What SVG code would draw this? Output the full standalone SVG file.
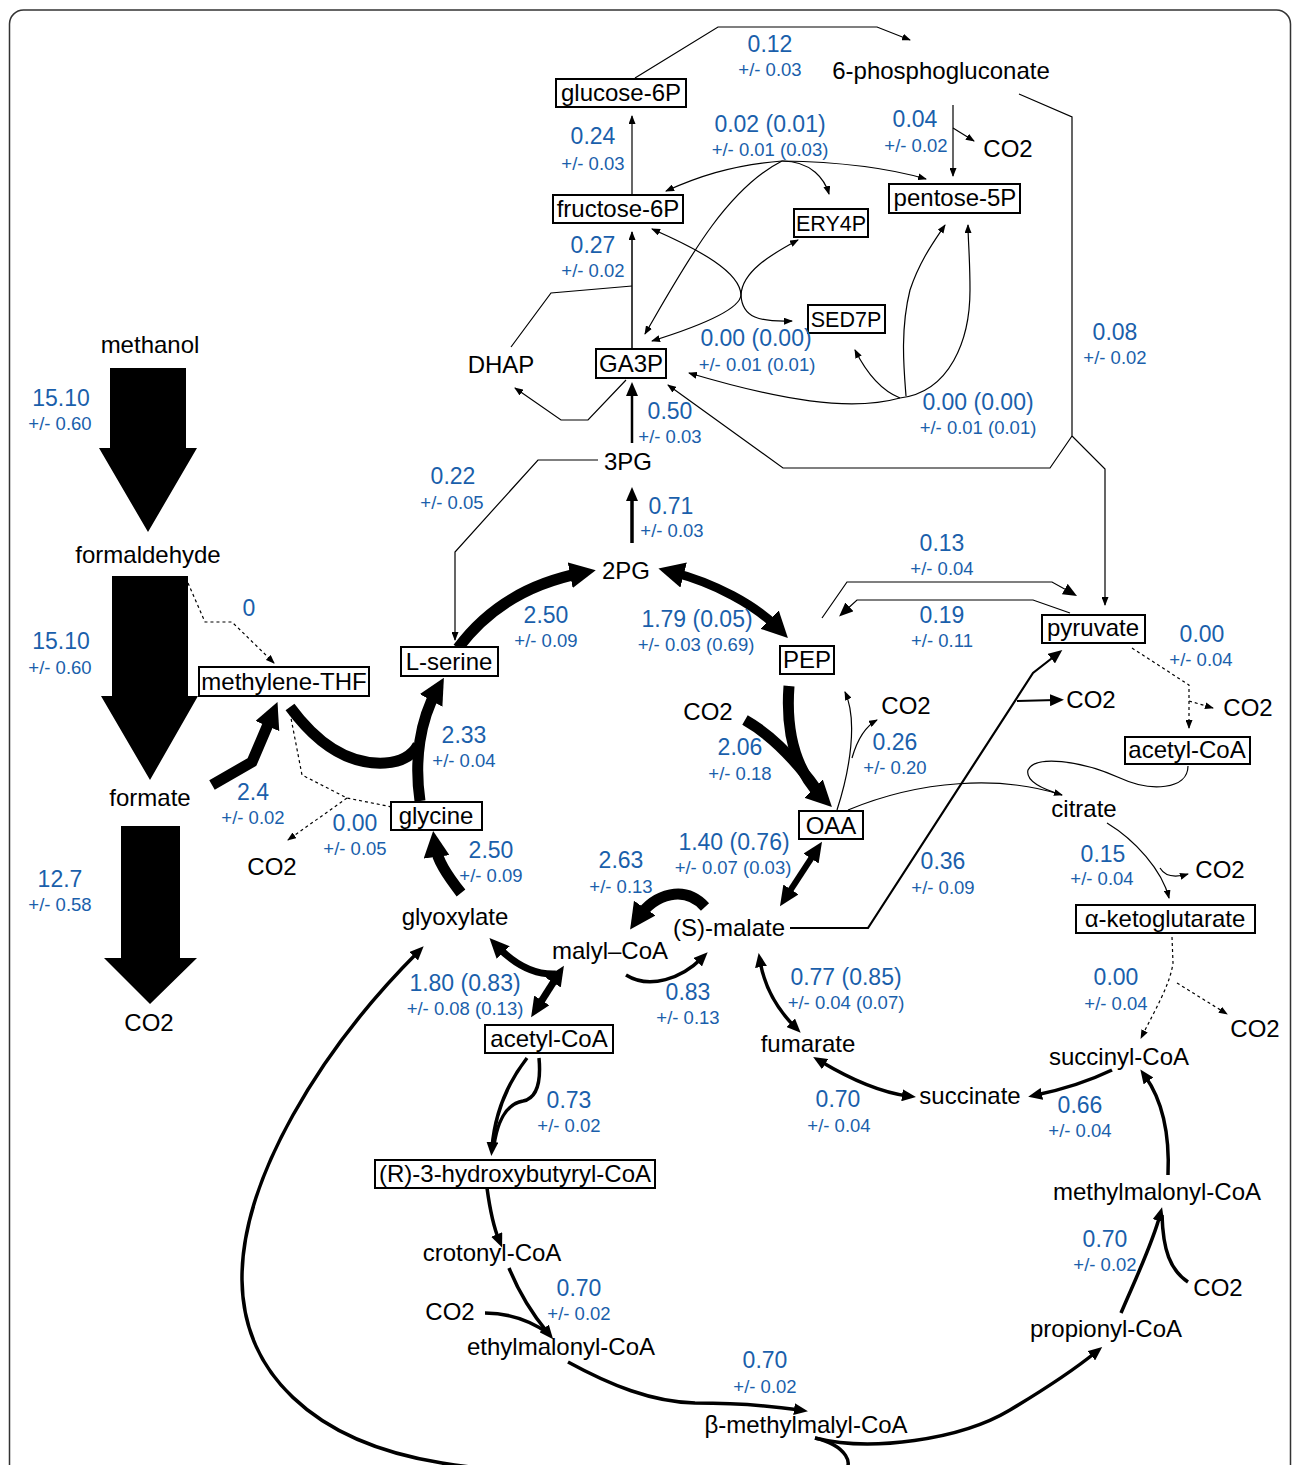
<svg xmlns="http://www.w3.org/2000/svg" width="1293" height="1465" viewBox="0 0 1293 1465">
<style>
text{font-family:"Liberation Sans",Arial,sans-serif;text-anchor:middle}
.n{font-size:24px;fill:#000}
.s{font-size:21.5px}
.v{font-size:23px;fill:#1a5fab}
.e{font-size:18.5px;fill:#1a5fab}
.box{fill:#fff;stroke:#000;stroke-width:2}
.c{fill:none;stroke:#000}
.t{stroke-width:1.2}
.d{stroke-width:1.2;stroke-dasharray:3,3}
.m3{stroke-width:3.5}
.m2{stroke-width:2.2}
.k{stroke-width:11}
.k9{stroke-width:9}
.k7{stroke-width:7}
.k6{stroke-width:6}
.big{fill:#000}
</style>
<defs>
<marker id="as" viewBox="0 0 9 7" markerWidth="9" markerHeight="7" refX="8" refY="3.5" orient="auto-start-reverse" markerUnits="userSpaceOnUse"><path d="M0,0 L9,3.5 L0,7 Z" fill="#000"/></marker>
<marker id="am" viewBox="0 0 14 12" markerWidth="14" markerHeight="12" refX="6" refY="6" orient="auto-start-reverse" markerUnits="userSpaceOnUse"><path d="M0,0 L14,6 L0,12 Z" fill="#000"/></marker>
<marker id="aml" viewBox="0 0 20 18" markerWidth="20" markerHeight="18" refX="9" refY="9" orient="auto-start-reverse" markerUnits="userSpaceOnUse"><path d="M0,0 L20,9 L0,18 Z" fill="#000"/></marker>
<marker id="al" viewBox="0 0 26 26" markerWidth="26" markerHeight="26" refX="12" refY="13" orient="auto-start-reverse" markerUnits="userSpaceOnUse"><path d="M0,0 L26,13 L0,26 Z" fill="#000"/></marker>
</defs>
<rect x="9.5" y="10" width="1281" height="1500" rx="14" fill="none" stroke="#333" stroke-width="1.5"/>

<g id="connectors">
<polygon class="big" points="110,368 186,368 186,448 197,448 148,532 99,448 110,448"/>
<polygon class="big" points="112,576 188,576 188,696 198,696 150,780 101,696 112,696"/>
<polygon class="big" points="121,826 180,826 180,958 197,958 150,1004 104,958 121,958"/>
<path class="c k" d="M212,785 L252,762 L272,715" marker-end="url(#al)"/>
<path class="c k" d="M290,707 C318,745 350,765 385,763 C402,762 412,756 418,745"/>
<path class="c k" d="M420,801 C414,760 420,720 437,690" marker-end="url(#al)"/>
<path class="c k" d="M461,893 C447,875 437,860 435,845" marker-end="url(#al)"/>
<path class="c k" d="M458,648 C490,605 535,582 582,573" marker-end="url(#al)"/>
<path class="c k9" d="M672,572 C715,583 755,605 778,628" marker-start="url(#al)" marker-end="url(#al)"/>
<path class="c k" d="M789,686 C785,740 800,775 822,797" marker-end="url(#al)"/>
<path class="c k" d="M745,720 C775,737 800,765 822,797"/>
<path class="c k6" d="M816,851 L786,897" marker-start="url(#aml)" marker-end="url(#aml)"/>
<path class="c k" d="M705,907 C685,885 655,893 638,918" marker-end="url(#al)"/>
<path class="c m3" d="M626,975 C650,990 682,978 702,958" marker-end="url(#am)"/>
<path class="c k7" d="M497,946 C515,965 535,975 556,974" marker-start="url(#aml)"/>
<path class="c k7" d="M558,975 L537,1008" marker-start="url(#aml)" marker-end="url(#aml)"/>
<path class="c m3" d="M527,1058 C510,1080 495,1110 492,1148" marker-end="url(#am)"/>
<path class="c m3" d="M539,1058 C541,1080 538,1098 523,1101 C505,1104 497,1125 494,1145"/>
<path class="c m3" d="M487,1188 C490,1210 494,1228 499,1240" marker-end="url(#am)"/>
<path class="c m3" d="M509,1268 C520,1295 533,1315 548,1333" marker-end="url(#am)"/>
<path class="c m3" d="M485,1313 C512,1313 532,1322 548,1333"/>
<path class="c m3" d="M568,1362 C610,1385 652,1402 695,1403 C730,1403 765,1405 800,1410" marker-end="url(#am)"/>
<path class="c m3" d="M815,1438 C870,1452 960,1440 1010,1410 C1050,1386 1080,1365 1096,1352" marker-end="url(#am)"/>
<path class="c m3" d="M815,1438 C845,1445 858,1465 840,1475 C800,1495 550,1480 442,1463 C310,1442 243,1370 242,1280 C241,1180 320,1050 418,952" marker-end="url(#am)"/>
<path class="c m3" d="M1121,1313 C1135,1280 1152,1245 1160,1215" marker-end="url(#am)"/>
<path class="c m3" d="M1188,1282 C1170,1270 1163,1250 1162,1215"/>
<path class="c m3" d="M1168,1175 C1170,1130 1160,1097 1145,1076" marker-end="url(#am)"/>
<path class="c m3" d="M1112,1070 C1085,1083 1060,1090 1036,1095" marker-end="url(#am)"/>
<path class="c m3" d="M820,1061 C855,1082 885,1093 908,1096" marker-start="url(#am)" marker-end="url(#am)"/>
<path class="c m3" d="M760,961 C765,990 778,1010 795,1027" marker-start="url(#am)" marker-end="url(#am)"/>
<path class="c d" d="M188,583 L205,622 L232,622 L274,663" marker-end="url(#as)"/>
<path class="c d" d="M290,713 L302,775 L347,798 L392,807"/>
<path class="c d" d="M347,798 L288,840" marker-end="url(#as)"/>
<path class="c t" d="M598,460 L538,460 L455,552 L455,640" marker-end="url(#as)"/>
<path class="c m3" d="M632,543 L632,495" marker-end="url(#am)"/>
<path class="c" stroke-width="2.5" d="M632,443 L632,390" marker-end="url(#am)"/>
<path class="c t" d="M626,380 L588,420 L561,420 L515,388" marker-end="url(#as)"/>
<path class="c t" d="M511,347 L551,293 L632,286"/>
<path class="c" stroke-width="1.5" d="M632,348 L632,232" marker-end="url(#as)"/>
<path class="c t" d="M632,194 L632,116" marker-end="url(#as)"/>
<path class="c t" d="M635,78 L718,27 L877,27 L910,40" marker-end="url(#as)"/>
<path class="c t" d="M953,105 L953,176" marker-end="url(#as)"/>
<path class="c t" d="M953,128 L974,141" marker-end="url(#as)"/>
<path class="c t" d="M1019,94 L1072,117 L1072,436 L1105,469 L1105,605" marker-end="url(#as)"/>
<path class="c t" d="M1072,436 L1050,468 L783,468 L668,385" marker-end="url(#as)"/>
<path class="c t" d="M782,161 C730,165 695,178 666,191" marker-end="url(#as)"/>
<path class="c t" d="M782,161 C850,162 895,170 926,179" marker-end="url(#as)"/>
<path class="c t" d="M782,161 C812,161 825,180 829,194" marker-end="url(#as)"/>
<path class="c t" d="M782,161 C725,190 685,265 645,334" marker-end="url(#as)"/>
<path class="c t" d="M652,229 C700,250 740,272 741,295 C742,318 760,322 792,321" marker-start="url(#as)" marker-end="url(#as)"/>
<path class="c t" d="M798,240 C770,255 742,272 741,295 C740,310 700,326 652,341" marker-start="url(#as)" marker-end="url(#as)"/>
<path class="c t" d="M900,398 C880,390 865,370 855,350" marker-end="url(#as)"/>
<path class="c t" d="M906,396 C904,370 900,330 910,290 C920,260 935,240 945,225" marker-end="url(#as)"/>
<path class="c t" d="M900,398 C950,392 970,340 970,290 C970,258 968,240 968,225" marker-end="url(#as)"/>
<path class="c t" d="M900,398 C850,412 780,400 689,373" marker-end="url(#as)"/>
<path class="c t" d="M822,618 L847,582 L1052,582 L1070,592" marker-end="url(#am)"/>
<path class="c t" d="M1070,613 L1033,600 L857,600 L845,611" marker-end="url(#am)"/>
<path class="c m2" d="M790,928 L868,928 L1033,673 L1056,655" marker-end="url(#am)"/>
<path class="c m2" d="M1017,701 L1056,700" marker-end="url(#am)"/>
<path class="c d" d="M1132,648 L1189,685 L1189,728" marker-end="url(#as)"/>
<path class="c d" d="M1189,701 L1213,708" marker-end="url(#as)"/>
<path class="c t" d="M837,810 C850,770 858,720 845,692" marker-end="url(#as)"/>
<path class="c t" d="M852,758 C858,737 866,726 877,720" marker-end="url(#as)"/>
<path class="c t" d="M848,810 C920,780 1000,775 1062,795" marker-end="url(#as)"/>
<path class="c t" d="M1188,766 C1188,790 1150,792 1120,778 C1080,760 1035,755 1028,770 C1025,782 1045,790 1062,795"/>
<path class="c t" d="M1107,823 C1135,840 1162,870 1169,898" marker-end="url(#as)"/>
<path class="c t" d="M1160,868 C1166,878 1178,877 1188,874" marker-end="url(#as)"/>
<path class="c d" d="M1172,937 L1173,963 C1170,985 1155,1010 1141,1038" marker-end="url(#as)"/>
<path class="c d" d="M1177,983 L1227,1014" marker-end="url(#as)"/>
</g>

<g id="node-methanol"><text class="n" x="150" y="353">methanol</text></g>
<g id="node-formaldehyde"><text class="n" x="148" y="563">formaldehyde</text></g>
<g id="node-formate"><text class="n" x="150" y="806">formate</text></g>
<g id="node-co2-a"><text class="n" x="149" y="1031">CO2</text></g>
<g id="node-co2-b"><text class="n" x="272" y="875">CO2</text></g>
<g id="node-dhap"><text class="n" x="501" y="373">DHAP</text></g>
<g id="node-3pg"><text class="n" x="628" y="470">3PG</text></g>
<g id="node-2pg"><text class="n" x="626" y="579">2PG</text></g>
<g id="node-6pg"><text class="n" x="941" y="79">6-phosphogluconate</text></g>
<g id="node-co2-c"><text class="n" x="1008" y="157">CO2</text></g>
<g id="node-co2-d"><text class="n" x="708" y="720">CO2</text></g>
<g id="node-co2-e"><text class="n" x="906" y="714">CO2</text></g>
<g id="node-co2-f"><text class="n" x="1091" y="708">CO2</text></g>
<g id="node-co2-g"><text class="n" x="1248" y="716">CO2</text></g>
<g id="node-citrate"><text class="n" x="1084" y="817">citrate</text></g>
<g id="node-co2-h"><text class="n" x="1220" y="878">CO2</text></g>
<g id="node-co2-i"><text class="n" x="1255" y="1037">CO2</text></g>
<g id="node-glyoxylate"><text class="n" x="455" y="925">glyoxylate</text></g>
<g id="node-malylcoa"><text class="n" x="610" y="959">malyl–CoA</text></g>
<g id="node-malate"><text class="n" x="729" y="936">(S)-malate</text></g>
<g id="node-fumarate"><text class="n" x="808" y="1052">fumarate</text></g>
<g id="node-succinate"><text class="n" x="970" y="1104">succinate</text></g>
<g id="node-succinylcoa"><text class="n" x="1119" y="1065">succinyl-CoA</text></g>
<g id="node-methylmalonylcoa"><text class="n" x="1157" y="1200">methylmalonyl-CoA</text></g>
<g id="node-co2-j"><text class="n" x="1218" y="1296">CO2</text></g>
<g id="node-propionylcoa"><text class="n" x="1106" y="1337">propionyl-CoA</text></g>
<g id="node-bmethylmalylcoa"><text class="n" x="806" y="1433">β-methylmalyl-CoA</text></g>
<g id="node-ethylmalonylcoa"><text class="n" x="561" y="1355">ethylmalonyl-CoA</text></g>
<g id="node-co2-k"><text class="n" x="450" y="1320">CO2</text></g>
<g id="node-crotonylcoa"><text class="n" x="492" y="1261">crotonyl-CoA</text></g>

<g id="node-glucose6p"><rect class="box" x="556" y="79" width="130" height="28"/><text class="n" x="621" y="101">glucose-6P</text></g>
<g id="node-fructose6p"><rect class="box" x="553" y="195" width="130" height="28"/><text class="n" x="618" y="217">fructose-6P</text></g>
<g id="node-ery4p"><rect class="box" x="794" y="209" width="74" height="28"/><text class="n s" x="831" y="231">ERY4P</text></g>
<g id="node-pentose5p"><rect class="box" x="889" y="184" width="131" height="29"/><text class="n" x="955" y="206">pentose-5P</text></g>
<g id="node-sed7p"><rect class="box" x="808" y="305" width="77" height="28"/><text class="n s" x="846" y="327">SED7P</text></g>
<g id="node-ga3p"><rect class="box" x="596" y="349" width="70" height="29"/><text class="n" x="631" y="372">GA3P</text></g>
<g id="node-lserine"><rect class="box" x="401" y="647" width="97" height="29"/><text class="n" x="449" y="670">L-serine</text></g>
<g id="node-pep"><rect class="box" x="780" y="646" width="54" height="28"/><text class="n" x="807" y="668">PEP</text></g>
<g id="node-pyruvate"><rect class="box" x="1042" y="615" width="103" height="28"/><text class="n" x="1093" y="636">pyruvate</text></g>
<g id="node-methylenethf"><rect class="box" x="199" y="667" width="170" height="29"/><text class="n" x="284" y="690">methylene-THF</text></g>
<g id="node-glycine"><rect class="box" x="391" y="802" width="91" height="28"/><text class="n" x="436" y="824">glycine</text></g>
<g id="node-oaa"><rect class="box" x="799" y="811" width="64" height="28"/><text class="n" x="831" y="834">OAA</text></g>
<g id="node-acetylcoa-a"><rect class="box" x="485" y="1025" width="128" height="28"/><text class="n" x="549" y="1047">acetyl-CoA</text></g>
<g id="node-acetylcoa-b"><rect class="box" x="1125" y="737" width="125" height="27"/><text class="n" x="1187" y="758">acetyl-CoA</text></g>
<g id="node-akg"><rect class="box" x="1076" y="905" width="179" height="28"/><text class="n" x="1165" y="927">α-ketoglutarate</text></g>
<g id="node-r3hb"><rect class="box" x="375" y="1160" width="280" height="28"/><text class="n" x="515" y="1182">(R)-3-hydroxybutyryl-CoA</text></g>

<g id="flux-labels">
<text class="v" x="61" y="406">15.10</text><text class="e" x="60" y="430">+/- 0.60</text>
<text class="v" x="61" y="649">15.10</text><text class="e" x="60" y="674">+/- 0.60</text>
<text class="v" x="60" y="887">12.7</text><text class="e" x="60" y="911">+/- 0.58</text>
<text class="v" x="249" y="616">0</text>
<text class="v" x="253" y="800">2.4</text><text class="e" x="253" y="824">+/- 0.02</text>
<text class="v" x="355" y="831">0.00</text><text class="e" x="355" y="855">+/- 0.05</text>
<text class="v" x="464" y="743">2.33</text><text class="e" x="464" y="767">+/- 0.04</text>
<text class="v" x="491" y="858">2.50</text><text class="e" x="491" y="882">+/- 0.09</text>
<text class="v" x="546" y="623">2.50</text><text class="e" x="546" y="647">+/- 0.09</text>
<text class="v" x="453" y="484">0.22</text><text class="e" x="452" y="509">+/- 0.05</text>
<text class="v" x="671" y="514">0.71</text><text class="e" x="672" y="537">+/- 0.03</text>
<text class="v" x="670" y="419">0.50</text><text class="e" x="670" y="443">+/- 0.03</text>
<text class="v" x="593" y="253">0.27</text><text class="e" x="593" y="277">+/- 0.02</text>
<text class="v" x="593" y="144">0.24</text><text class="e" x="593" y="170">+/- 0.03</text>
<text class="v" x="770" y="52">0.12</text><text class="e" x="770" y="76">+/- 0.03</text>
<text class="v" x="770" y="132">0.02 (0.01)</text><text class="e" x="770" y="156">+/- 0.01 (0.03)</text>
<text class="v" x="915" y="127">0.04</text><text class="e" x="916" y="152">+/- 0.02</text>
<text class="v" x="756" y="346">0.00 (0.00)</text><text class="e" x="757" y="371">+/- 0.01 (0.01)</text>
<text class="v" x="978" y="410">0.00 (0.00)</text><text class="e" x="978" y="434">+/- 0.01 (0.01)</text>
<text class="v" x="1115" y="340">0.08</text><text class="e" x="1115" y="364">+/- 0.02</text>
<text class="v" x="942" y="551">0.13</text><text class="e" x="942" y="575">+/- 0.04</text>
<text class="v" x="942" y="623">0.19</text><text class="e" x="942" y="647">+/- 0.11</text>
<text class="v" x="697" y="627">1.79 (0.05)</text><text class="e" x="696" y="651">+/- 0.03 (0.69)</text>
<text class="v" x="1202" y="642">0.00</text><text class="e" x="1201" y="666">+/- 0.04</text>
<text class="v" x="740" y="755">2.06</text><text class="e" x="740" y="780">+/- 0.18</text>
<text class="v" x="895" y="750">0.26</text><text class="e" x="895" y="774">+/- 0.20</text>
<text class="v" x="734" y="850">1.40 (0.76)</text><text class="e" x="733" y="874">+/- 0.07 (0.03)</text>
<text class="v" x="621" y="868">2.63</text><text class="e" x="621" y="893">+/- 0.13</text>
<text class="v" x="943" y="869">0.36</text><text class="e" x="943" y="894">+/- 0.09</text>
<text class="v" x="1103" y="862">0.15</text><text class="e" x="1102" y="885">+/- 0.04</text>
<text class="v" x="465" y="991">1.80 (0.83)</text><text class="e" x="465" y="1015">+/- 0.08 (0.13)</text>
<text class="v" x="688" y="1000">0.83</text><text class="e" x="688" y="1024">+/- 0.13</text>
<text class="v" x="846" y="985">0.77 (0.85)</text><text class="e" x="846" y="1009">+/- 0.04 (0.07)</text>
<text class="v" x="1116" y="985">0.00</text><text class="e" x="1116" y="1010">+/- 0.04</text>
<text class="v" x="838" y="1107">0.70</text><text class="e" x="839" y="1132">+/- 0.04</text>
<text class="v" x="1080" y="1113">0.66</text><text class="e" x="1080" y="1137">+/- 0.04</text>
<text class="v" x="569" y="1108">0.73</text><text class="e" x="569" y="1132">+/- 0.02</text>
<text class="v" x="1105" y="1247">0.70</text><text class="e" x="1105" y="1271">+/- 0.02</text>
<text class="v" x="579" y="1296">0.70</text><text class="e" x="579" y="1320">+/- 0.02</text>
<text class="v" x="765" y="1368">0.70</text><text class="e" x="765" y="1393">+/- 0.02</text>
</g>
</svg>
